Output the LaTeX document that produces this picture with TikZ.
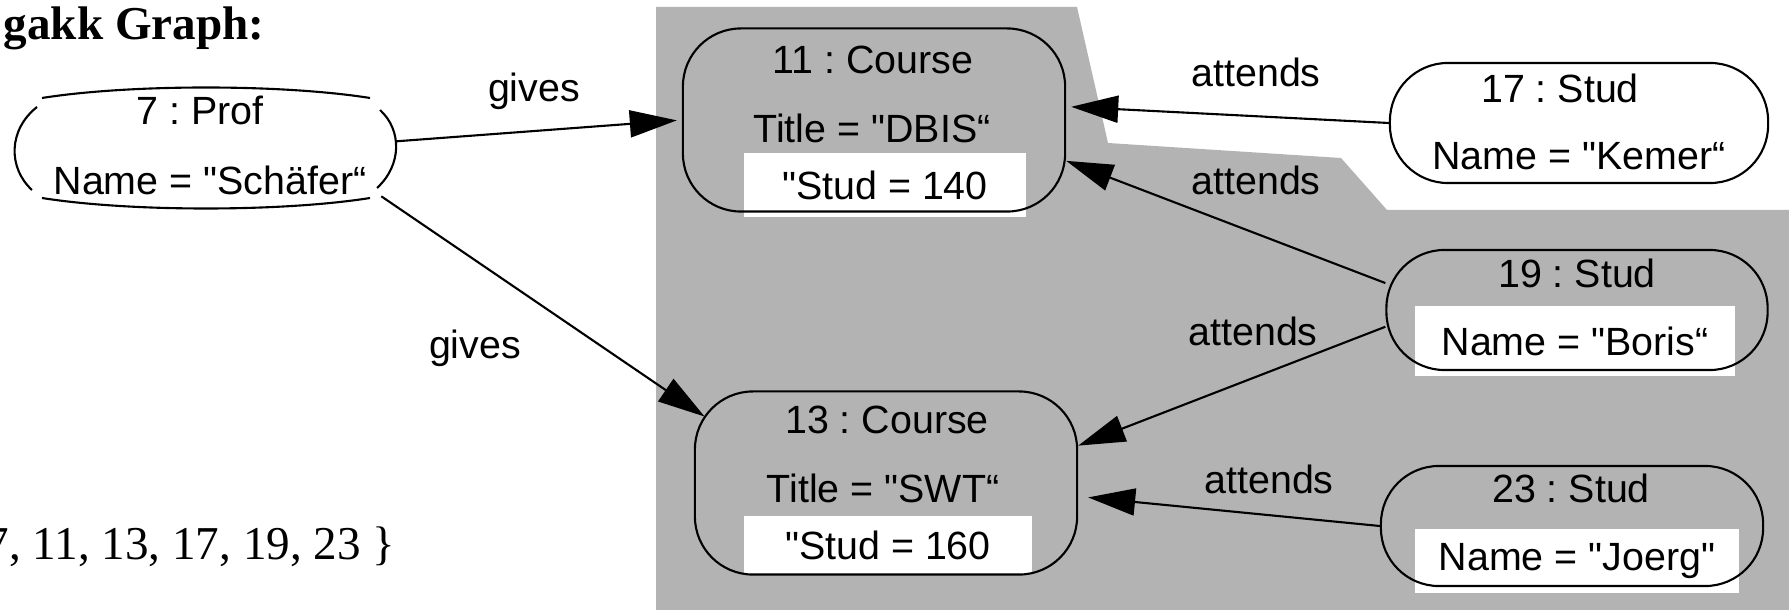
\documentclass[tikz,border=0pt]{standalone}
\usepackage{fontspec}
\setmainfont{Liberation Sans}[Ligatures=TeXOff]
\newfontfamily\serifhead{Liberation Serif}
\usetikzlibrary{positioning, arrows.meta}
\definecolor{shadegray}{RGB}{179,179,179}
\frenchspacing

\begin{document}
\begin{tikzpicture}[x=0.01cm, y=-0.01cm,
    objnode/.style={draw, line width=0.6pt, rounded corners=0.58cm, minimum width=3.8cm, minimum height=1.2cm},
    coursenode/.style={objnode, minimum width=3.82cm, minimum height=1.83cm},
    attr/.style={font=\fontsize{11.2}{13.4}\selectfont, inner sep=0pt},
    attrbox/.style={attr, fill=white, minimum height=0.64cm},
    relarrow/.style={-{Triangle[length=0.47cm, width=0.27cm]}, line width=0.6pt},]
    \useasboundingbox (0,0) rectangle (1789,610);
    % shaded part of the graph
    \fill[shadegray] (656,7) -- (1077,7) -- (1108,143) -- (1341,158) -- (1387,210)
        -- (1789,210) -- (1789,610) -- (656,610) -- cycle;
    % heading and id set
    \node[anchor=base west, inner sep=0pt, font=\serifhead\bfseries\fontsize{13.4}{16}\selectfont] (head) at (3,40) {gakk Graph:};
    \node[anchor=base east, inner sep=0pt, font=\serifhead\fontsize{13.4}{16}\selectfont] (idset) at (396,559) {7, 11, 13, 17, 19, 23 \}};
    % white attribute boxes
    \node[attrbox, minimum width=2.81cm]                          (c11box) at (885,185)  {"Stud = 140};
    \node[attrbox, minimum width=2.87cm, minimum height=0.58cm]   (c13box) at (888,545)  {"Stud = 160};
    \node[attrbox, minimum width=3.2cm, minimum height=0.7cm]     (s19box) at (1575,341) {Name = "Boris“};
    \node[attrbox, minimum width=3.24cm, minimum height=0.63cm]   (s23box) at (1577,561) {Name = "Joerg"};
    % objects
    \node[objnode, draw=none]              (prof) at (205,148)  {};
    \node[coursenode]                      (c11)  at (874,120)  {};
    \node[coursenode]                      (c13)  at (886,483)  {};
    \node[objnode, minimum width=3.78cm]   (s17)  at (1579,123) {};
    \node[objnode, minimum width=3.81cm]   (s19)  at (1577,310) {};
    \node[objnode, minimum width=3.82cm]   (s23)  at (1572,526) {};
    % outline of the prof object, drawn in four open pieces
    \draw[line width=0.6pt] (42,98) .. controls (130,84) and (282,84) .. (370,98);
    \draw[line width=0.6pt] (42,198) .. controls (130,212) and (282,212) .. (370,198);
    \draw[line width=0.6pt] (37,107) .. controls (8,130) and (8,168) .. (32,190);
    \draw[line width=0.6pt] (380,110) .. controls (402,130) and (402,165) .. (377,188);
    % object texts
    \node[attr] (proft) at (200,110)  {7 : Prof};
    \node[attr] (profa) at (210,180)  {Name = "Schäfer“};
    \node[attr] (c11t)  at (873,60)   {11 : Course};
    \node[attr] (c11a)  at (872,128)  {Title = "DBIS“};
    \node[attr] (c13t)  at (887,420)  {13 : Course};
    \node[attr] (c13a)  at (883,488)  {Title = "SWT“};
    \node[attr] (s17t)  at (1560,88)  {17 : Stud};
    \node[attr] (s17a)  at (1579,156) {Name = "Kemer“};
    \node[attr] (s19t)  at (1577,273) {19 : Stud};
    \node[attr] (s23t)  at (1571,488) {23 : Stud};
    % links
    \draw[relarrow, shorten >=0.05cm] (prof.2) -- (c11.west);
    \draw[relarrow, shorten <=-0.18cm, shorten >=-0.13cm] (prof.-17) -- (c13.159);
    \draw[relarrow, shorten >=0.05cm] (s17.west) -- (c11.4);
    \draw[relarrow] (s19.172) -- (c11.-12);
    \draw[relarrow] (s19.185) -- (c13.11);
    \draw[relarrow, shorten >=0.1cm] (s23.west) -- (c13.-4);
    % link labels
    \node[attr] (g1) at (534,91)  {gives};
    \node[attr] (g2) at (475,348) {gives};
    \node[attr] (a1) at (1256,72) {attends};
    \node[attr] (a2) at (1256,180) {attends};
    \node[attr] (a3) at (1253,331) {attends};
    \node[attr] (a4) at (1269,479) {attends};
\end{tikzpicture}
\end{document}
